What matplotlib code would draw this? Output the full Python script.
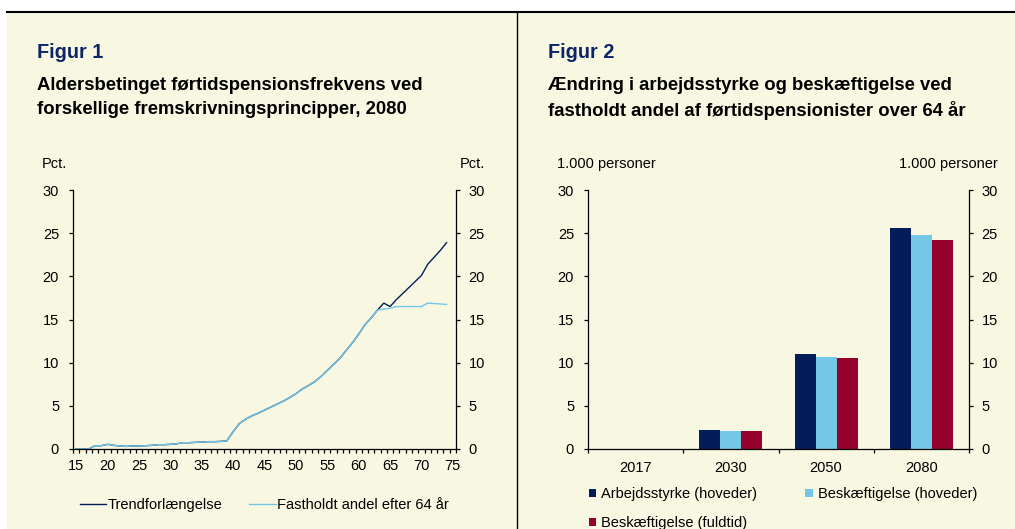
import numpy as np
import matplotlib.pyplot as plt
from matplotlib.patches import Rectangle
from matplotlib.lines import Line2D

plt.rcParams['font.family'] = ['Liberation Sans', 'DejaVu Sans']

# --- Data: figure 1 (age 15..74) ---
ages = list(range(15, 75))
trend = [0.0, 0.0, 0.0, 0.38, 0.38, 0.54, 0.42, 0.35, 0.3, 0.35,
         0.35, 0.38, 0.42, 0.5, 0.5, 0.54, 0.6, 0.73, 0.73, 0.77,
         0.8, 0.85, 0.85, 0.88, 0.95, 2.0, 2.95, 3.45, 3.85, 4.15,
         4.5, 4.85, 5.2, 5.55, 5.95, 6.4, 6.95, 7.35, 7.8, 8.4,
         9.1, 9.8, 10.5, 11.4, 12.3, 13.3, 14.4, 15.2, 16.1, 16.9,
         16.5, 17.3, 18.0, 18.7, 19.4, 20.1, 21.4, 22.2, 23.0, 23.9]
fixed = trend[:48] + [16.1, 16.2, 16.3, 16.5, 16.5, 16.5, 16.5, 16.5,
                      16.9, 16.85, 16.8, 16.75]

# --- Data: figure 2 ---
years = ['2017', '2030', '2050', '2080']
arbejdsstyrke = [0.0, 2.2, 11.0, 25.6]
besk_hoveder = [0.0, 2.1, 10.6, 24.8]
besk_fuldtid = [0.0, 2.1, 10.5, 24.2]

DARK = '#051c5a'
LIGHT = '#74c7e6'
RED = '#96002c'
CREAM = '#f8f8e2'
TITLE_BLUE = '#0d2566'
FS = 10.5

fig = plt.figure(figsize=(10.15, 5.29), dpi=100)
fig.patch.set_facecolor('white')
W, H = 1015, 529

# cream background, top rule and divider
fig.patches.append(Rectangle((7 / W, 0), 1 - 7 / W, 1 - 12 / H, transform=fig.transFigure,
                             facecolor=CREAM, edgecolor='none', zorder=-5))
fig.add_artist(Line2D([7 / W, 1], [1 - 12 / H] * 2, color='black', lw=1.5))
fig.add_artist(Line2D([517 / W] * 2, [0, 1 - 12 / H], color='black', lw=1.0))


def px(x, y):
    return x / W, 1 - y / H


def style_axis(ax):
    ax.set_facecolor('none')
    ax.set_ylim(0, 30)
    ax.set_yticks(range(0, 31, 5))
    for s in ['top', 'right']:
        ax.spines[s].set_visible(False)
    ax.spines['left'].set_linewidth(0.9)
    ax.spines['bottom'].set_linewidth(0.9)
    ax.tick_params(axis='y', direction='out', length=3, width=0.9, labelsize=FS, pad=7)
    ax2 = ax.twinx()
    ax2.set_ylim(0, 30)
    ax2.set_yticks(range(0, 31, 5))
    for s in ['top', 'left', 'bottom']:
        ax2.spines[s].set_visible(False)
    ax2.spines['right'].set_linewidth(0.9)
    ax2.tick_params(axis='y', direction='out', length=3, width=0.9, labelsize=FS, pad=6)
    return ax2


# ---------------- Figure 1 ----------------
ax1 = fig.add_axes([73 / W, 80 / H, 383 / W, 259 / H])
ax1.plot(ages, trend, color=DARK, lw=1.0)
ax1.plot(ages, fixed, color=LIGHT, lw=1.0)
ax1.set_xlim(14.5, 75.5)
ax1.set_xticks(range(15, 76, 5))
ax1.set_xticks(np.arange(14.5, 75.6, 1), minor=True)
ax1.tick_params(axis='x', which='major', length=0, labelsize=FS, pad=7)
ax1.tick_params(axis='x', which='minor', direction='out', length=3, width=0.9)
style_axis(ax1)

fig.text(*px(37, 52), 'Figur 1', fontsize=14.3, fontweight='bold', color=TITLE_BLUE, va='center')
fig.text(*px(37, 85), 'Aldersbetinget førtidspensionsfrekvens ved',
         fontsize=13.3, fontweight='bold', va='center')
fig.text(*px(37, 110), 'forskellige fremskrivningsprincipper, 2080',
         fontsize=13.3, fontweight='bold', va='center')
fig.text(*px(42, 164), 'Pct.', fontsize=FS, va='center')
fig.text(*px(485, 164), 'Pct.', fontsize=FS, va='center', ha='right')

fig.legend(handles=[Line2D([], [], color=DARK, lw=1.0), Line2D([], [], color=LIGHT, lw=1.0)],
           labels=['Trendforlængelse', 'Fastholdt andel efter 64 år'],
           loc='center left', bbox_to_anchor=px(74, 505), ncol=2, frameon=False,
           fontsize=FS, handlelength=1.8, handletextpad=0.1, columnspacing=1.85,
           borderaxespad=0)

# ---------------- Figure 2 ----------------
ax3 = fig.add_axes([588 / W, 80 / H, 381 / W, 259 / H])
x = np.arange(len(years))
bw = 0.22
b1 = ax3.bar(x - bw, arbejdsstyrke, bw, color=DARK, label='Arbejdsstyrke (hoveder)')
b2 = ax3.bar(x, besk_hoveder, bw, color=LIGHT, label='Beskæftigelse (hoveder)')
b3 = ax3.bar(x + bw, besk_fuldtid, bw, color=RED, label='Beskæftigelse (fuldtid)')
ax3.set_xlim(-0.5, len(years) - 0.5)
ax3.set_xticks(x)
ax3.set_xticklabels(years)
ax3.set_xticks(np.arange(-0.5, len(years), 1), minor=True)
ax3.tick_params(axis='x', which='major', length=0, labelsize=FS, pad=9)
ax3.tick_params(axis='x', which='minor', direction='out', length=3, width=0.9)
style_axis(ax3)

fig.text(*px(548, 52), 'Figur 2', fontsize=14.3, fontweight='bold', color=TITLE_BLUE, va='center')
fig.text(*px(548, 85), 'Ændring i arbejdsstyrke og beskæftigelse ved',
         fontsize=13.3, fontweight='bold', va='center')
fig.text(*px(548, 110), 'fastholdt andel af førtidspensionister over 64 år',
         fontsize=13.3, fontweight='bold', va='center')
fig.text(*px(557, 164), '1.000 personer', fontsize=FS, va='center')
fig.text(*px(998, 164), '1.000 personer', fontsize=FS, va='center', ha='right')

# column-first fill: order so row 1 holds the two "hoveder" series
fig.legend([b1, b3, b2],
           ['Arbejdsstyrke (hoveder)', 'Beskæftigelse (fuldtid)', 'Beskæftigelse (hoveder)'],
           loc='upper left', bbox_to_anchor=px(583, 481), ncol=2, frameon=False,
           fontsize=FS, handlelength=0.5, handleheight=0.5, handletextpad=0.35,
           columnspacing=3.3, labelspacing=1.05, borderaxespad=0)

fig.savefig('out.png', dpi=100, facecolor=fig.get_facecolor())
